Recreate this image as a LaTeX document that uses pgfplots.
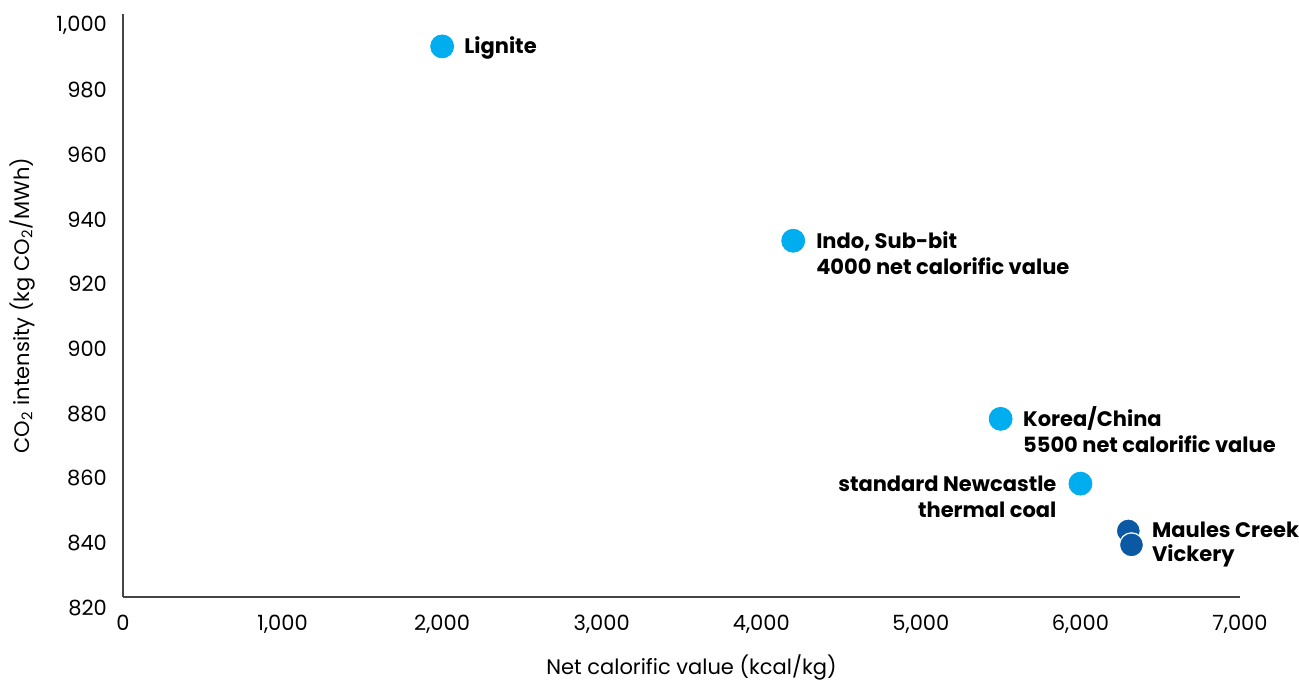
\documentclass[border=0pt]{standalone}
\usepackage{fontspec}
\setmainfont{Poppins}
\usepackage{pgfplots}
\pgfplotsset{compat=1.18}
\definecolor{lightblue}{HTML}{00AEEF}
\definecolor{darkblue}{HTML}{0B59A4}
\definecolor{axisgray}{HTML}{444444}

\begin{document}
\begin{tikzpicture}[
  lab/.style={font=\bfseries\fontsize{10.5}{12}\selectfont, inner sep=0pt,
    text height=7.4pt, text depth=0pt}]
\useasboundingbox (-61.5pt,-41pt) rectangle (588pt,298.5pt);
\begin{axis}[
  at={(0,0)}, anchor=south west,
  scale only axis, width=558.5pt, height=291.5pt,
  xmin=0, xmax=7000, ymin=820, ymax=1000,
  axis lines=left,
  axis line style={-, draw=axisgray, line width=1pt},
  xtick distance=1000, ytick distance=20,
  major tick length=0pt,
  tick label style={font=\fontsize{10.5}{12}\selectfont},
  label style={font=\fontsize{10.5}{12}\selectfont},
  /pgf/number format/assume math mode=true,
  /pgf/number format/1000 sep={,},
  xticklabel style={yshift=-5.5pt},
  yticklabel style={yshift=-5.5pt, xshift=-4.5pt},
  xlabel={Net calorific value (kcal/kg)},
  ylabel={CO\textsubscript{2} intensity (kg CO\textsubscript{2}/MWh)},
  xlabel style={at={(axis description cs:0.5,0)}, anchor=center, yshift=-35pt, xshift=5pt},
  ylabel style={at={(axis description cs:0,0.5)}, anchor=center, yshift=50.5pt},
  clip=false,
]
\addplot[only marks, mark=*, mark size=5.75pt, color=lightblue]
  coordinates {(2000,990) (4200,930) (5500,875) (6000,855)};
\addplot[only marks, mark=*, mark size=6pt,
  mark options={fill=darkblue, draw=white, line width=0.6pt}]
  coordinates {(6300,840.4) (6320,836.1)};

\node[lab, anchor=west] at (axis cs:2137,990.1) {Lignite};
\node[lab, anchor=west] at (axis cs:4342,929.9) {Indo, Sub-bit};
\node[lab, anchor=west] at (axis cs:4342,921.9) {4000 net calorific value};
\node[lab, anchor=west] at (axis cs:5639,875.0) {Korea/China};
\node[lab, anchor=west] at (axis cs:5639,866.9) {5500 net calorific value};
\node[lab, anchor=east] at (axis cs:5852,854.9) {standard Newcastle};
\node[lab, anchor=east] at (axis cs:5852,846.9) {thermal coal};
\node[lab, anchor=west] at (axis cs:6447,840.7) {Maules Creek};
\node[lab, anchor=west] at (axis cs:6447,833.3) {Vickery};
\end{axis}
\end{tikzpicture}
\end{document}
